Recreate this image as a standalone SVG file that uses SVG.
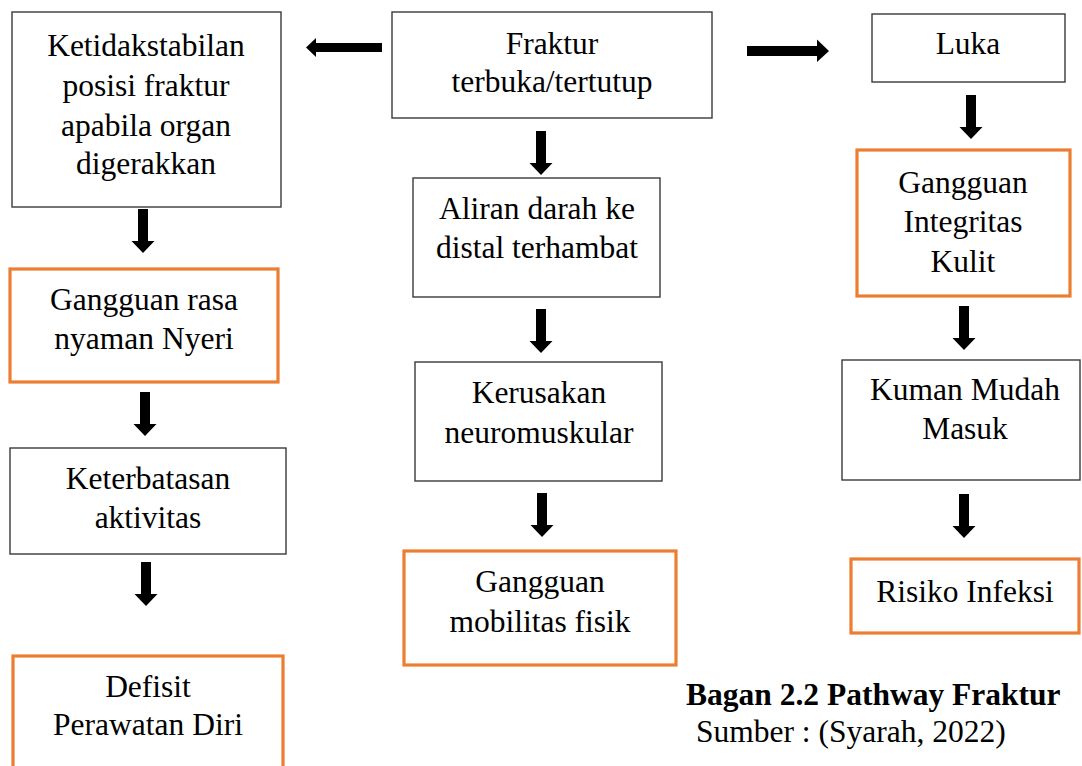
<svg xmlns="http://www.w3.org/2000/svg" xmlns:xlink="http://www.w3.org/1999/xlink" width="1082" height="766" viewBox="0 0 1082 766">
<style>
.bx{fill:#fff;stroke:#3a3a3a;stroke-width:1.4}
.ob{fill:#fff;stroke:#ED7D31;stroke-width:3.2}
text{font-family:"Liberation Serif","Times New Roman",serif;font-size:31.5px;fill:#000;text-anchor:middle}
.cap{text-anchor:start}
.b{font-weight:bold}
.ar{fill:#000}
</style>
<defs>
<path id="dn" d="M-5,0 H5 V32 H11.5 L0,44 L-11.5,32 H-5 Z"/>
</defs>
<rect width="1082" height="766" fill="#fff"/>
<g id="n-ketidakstabilan"><rect class="bx" x="12" y="12" width="269" height="195"/>
<text x="146" y="56">Ketidakstabilan</text><text x="146" y="96">posisi fraktur</text><text x="146" y="136">apabila organ</text><text x="146" y="174">digerakkan</text></g>
<g id="n-fraktur"><rect class="bx" x="392" y="12" width="320" height="106"/>
<text x="552" y="54">Fraktur</text><text x="552" y="92">terbuka/tertutup</text></g>
<g id="n-luka"><rect class="bx" x="872" y="14" width="193" height="68"/>
<text x="968" y="54">Luka</text></g>
<g id="n-nyeri"><rect class="ob" x="10" y="269" width="268" height="113"/>
<text x="144" y="310">Gangguan rasa</text><text x="144" y="349">nyaman Nyeri</text></g>
<g id="n-keterbatasan"><rect class="bx" x="10" y="448" width="276" height="106"/>
<text x="148" y="489">Keterbatasan</text><text x="148" y="528">aktivitas</text></g>
<g id="n-defisit"><rect class="ob" x="13" y="656" width="270" height="130"/>
<text x="148" y="697">Defisit</text><text x="148" y="735">Perawatan Diri</text></g>
<g id="n-aliran"><rect class="bx" x="413" y="178" width="247" height="119"/>
<text x="537" y="219">Aliran darah ke</text><text x="537" y="258">distal terhambat</text></g>
<g id="n-kerusakan"><rect class="bx" x="415" y="362" width="247" height="119"/>
<text x="539" y="403">Kerusakan</text><text x="539" y="443">neuromuskular</text></g>
<g id="n-mobilitas"><rect class="ob" x="404" y="551" width="272" height="114"/>
<text x="540" y="592">Gangguan</text><text x="540" y="632">mobilitas fisik</text></g>
<g id="n-integritas"><rect class="ob" x="857" y="150" width="213" height="146"/>
<text x="963" y="193">Gangguan</text><text x="963" y="232">Integritas</text><text x="963" y="272">Kulit</text></g>
<g id="n-kuman"><rect class="bx" x="842" y="360" width="238" height="120"/>
<text x="965" y="400">Kuman Mudah</text><text x="965" y="439">Masuk</text></g>
<g id="n-infeksi"><rect class="ob" x="851" y="559" width="228" height="74"/>
<text x="965" y="602">Risiko Infeksi</text></g>
<g id="caption">
<text class="cap b" x="686" y="705">Bagan 2.2 Pathway Fraktur</text>
<text class="cap" x="696" y="742">Sumber : (Syarah, 2022)</text>
</g>
<g id="connectors" class="ar">
<polygon points="382,43 316,43 316,38 306,47.5 316,57 316,52 382,52"/>
<polygon points="747,46 817,46 817,39.5 829,51 817,62 817,56 747,56"/>
<use xlink:href="#dn" x="143" y="209"/>
<use xlink:href="#dn" x="145" y="392"/>
<use xlink:href="#dn" x="146" y="562"/>
<use xlink:href="#dn" x="541" y="131"/>
<use xlink:href="#dn" x="541" y="309"/>
<use xlink:href="#dn" x="542" y="493"/>
<use xlink:href="#dn" x="971" y="95"/>
<use xlink:href="#dn" x="964" y="306"/>
<use xlink:href="#dn" x="964" y="494"/>
</g>
</svg>
